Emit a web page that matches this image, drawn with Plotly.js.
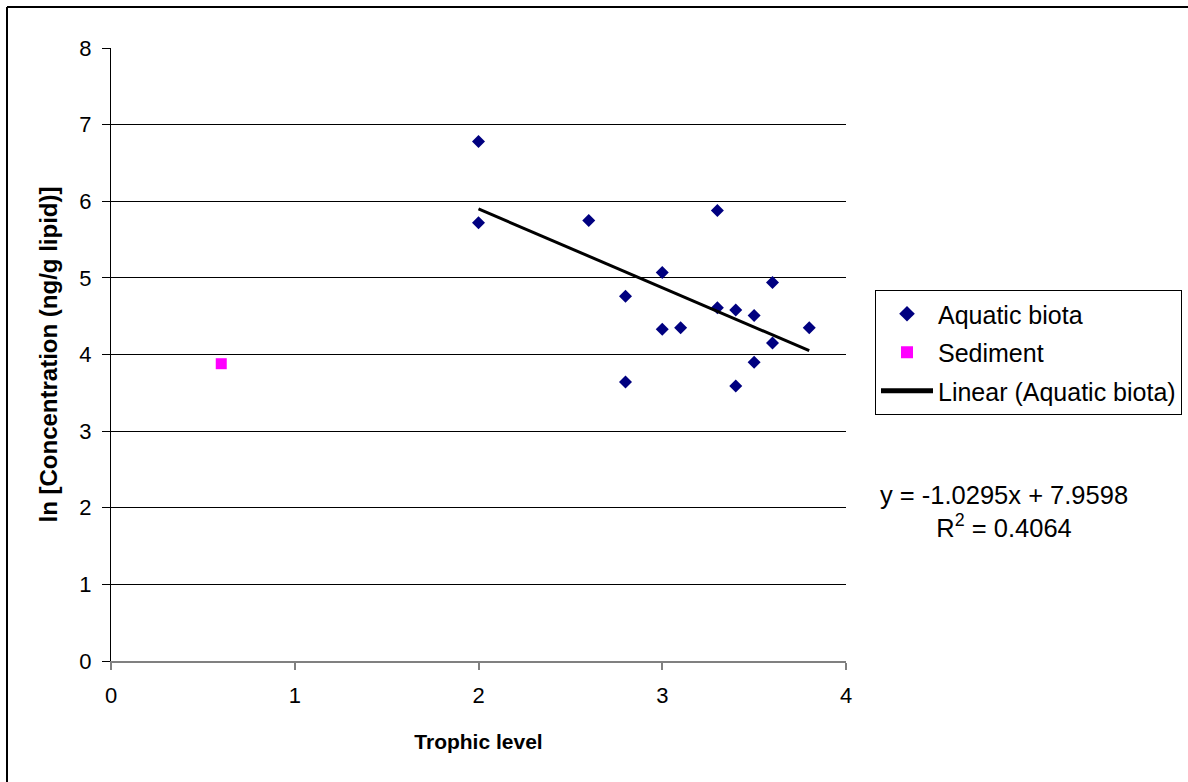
<!DOCTYPE html>
<html>
<head>
<meta charset="utf-8">
<script src="https://cdn.plot.ly/plotly-3.0.1.min.js"></script>
<style>
html,body{margin:0;padding:0;background:#fff;}
#chart{width:1188px;height:782px;}
</style>
</head>
<body>
<div id="chart"></div>
<script>
// Aquatic biota (trophic level, ln concentration)
var biotaTrophic = [2.0, 2.0, 2.6, 2.8, 2.8, 3.0, 3.0, 3.1, 3.3, 3.3, 3.4, 3.4, 3.5, 3.5, 3.6, 3.6, 3.8];
var biotaLnConc  = [6.78, 5.72, 5.75, 4.76, 3.64, 5.07, 4.33, 4.35, 5.88, 4.61, 4.58, 3.59, 4.51, 3.90, 4.94, 4.15, 4.35];
// Sediment
var sedimentTrophic = [0.6];
var sedimentLnConc  = [3.88];
// Linear trend line endpoints (Aquatic biota)
var trendTrophic = [2.0, 3.8];
var trendLnConc  = [5.90, 4.05];
// Tick labels
var xTicks = [0, 1, 2, 3, 4];
var yTicks = [0, 1, 2, 3, 4, 5, 6, 7, 8];
var equationText = "y = -1.0295x + 7.9598<br>R<sup>2</sup> = 0.4064";

var FONT = "Liberation Sans, Arial, sans-serif";

var traces = [
  {
    x: biotaTrophic, y: biotaLnConc, type: "scatter", mode: "markers",
    name: "Aquatic biota", legendgroup: "g1",
    marker: {symbol: "diamond", size: 10, color: "#000080", line: {width: 0}}
  },
  {
    x: sedimentTrophic, y: sedimentLnConc, type: "scatter", mode: "markers",
    name: "Sediment", legendgroup: "g2",
    marker: {symbol: "square", size: 11, color: "#FF00FF", line: {width: 0}}
  },
  {
    x: trendTrophic, y: trendLnConc, type: "scatter", mode: "lines",
    name: "Linear (Aquatic biota)", legendgroup: "g3",
    line: {color: "#000000", width: 3}
  }
];

var CW = 1188, CH = 782;
var L = 111, R = 846, T = 48, B = 661;
var W = R - L, H = B - T;
function px(xp){ return (xp - L) / W; }
function py(yp){ return (B - yp) / H; }

var layout = {
  width: CW, height: CH,
  margin: {l: L, r: CW - R, t: T, b: CH - B, pad: 0, autoexpand: false},
  paper_bgcolor: "#ffffff", plot_bgcolor: "#ffffff",
  font: {family: FONT, color: "#000000", size: 22},
  showlegend: true,
  xaxis: {
    range: [0, 4], tickvals: xTicks, ticktext: xTicks.map(String),
    showgrid: false, zeroline: false, automargin: false,
    showline: true, linecolor: "#808080", linewidth: 2,
    ticks: "outside", ticklen: 7, tickcolor: "#808080", tickwidth: 2,
    tickfont: {family: FONT, size: 22, color: "#000"},
    ticklabelstandoff: 7,
    title: {text: "<b>Trophic level</b>", font: {family: FONT, size: 21, color: "#000"}, standoff: 27}
  },
  yaxis: {
    range: [0, 8], tickvals: yTicks, ticktext: yTicks.map(String),
    showgrid: true, gridcolor: "#000000", gridwidth: 1,
    zeroline: false, automargin: false,
    showline: true, linecolor: "#000000", linewidth: 1,
    ticks: "outside", ticklen: 8, tickcolor: "#000000", tickwidth: 1,
    tickfont: {family: FONT, size: 22, color: "#000"},
    ticklabelstandoff: 6,
    title: {text: "<b>ln [Concentration (ng/g lipid)]</b>", font: {family: FONT, size: 24, color: "#000"}, standoff: 14}
  },
  legend: {
    xref: "container", yref: "container",
    x: 875 / CW, y: 1 - 290 / CH, xanchor: "left", yanchor: "top",
    bordercolor: "#000000", borderwidth: 1, bgcolor: "#ffffff",
    font: {family: FONT, size: 25, color: "#000"},
    itemsizing: "constant", itemwidth: 52, tracegroupgap: 3
  },
  annotations: [
    {
      xref: "paper", yref: "paper", x: px(1004), y: py(511),
      xanchor: "center", yanchor: "middle", align: "center",
      text: equationText, showarrow: false,
      font: {family: FONT, size: 25.5, color: "#000"}
    }
  ],
  shapes: [
    {type: "line", xref: "paper", yref: "paper", x0: px(7), x1: px(1188), y0: py(7), y1: py(7), line: {color: "#000", width: 2}},
    {type: "line", xref: "paper", yref: "paper", x0: px(7), x1: px(7), y0: py(7), y1: py(782), line: {color: "#000", width: 2}}
  ]
};

Plotly.newPlot("chart", traces, layout, {displayModeBar: false, staticPlot: true});
</script>
</body>
</html>
